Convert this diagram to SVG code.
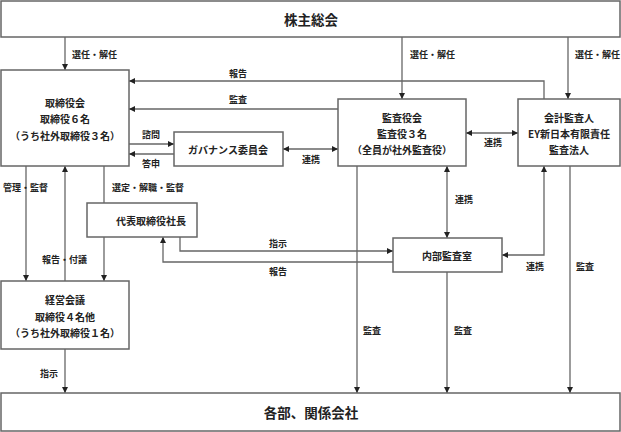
<svg xmlns="http://www.w3.org/2000/svg" width="621" height="432" viewBox="0 0 621 432">
<defs>
<marker id="ah" viewBox="0 0 10 10" refX="10" refY="5" markerWidth="6" markerHeight="6" orient="auto-start-reverse" markerUnits="userSpaceOnUse">
<path d="M0,0 L10,5 L0,10 z" fill="#222"/>
</marker>
<style>
.box{fill:#fff;stroke:#666;stroke-width:1.5}
.ln{fill:none;stroke:#666;stroke-width:1.3}
.t{font-family:"Noto Sans CJK JP","Noto Sans CJK SC",sans-serif;fill:#222;text-anchor:middle;dominant-baseline:central}
.n{font-size:10px;font-weight:bold}
.big{font-size:13.5px;font-weight:bold}
.l{font-size:9px;font-weight:bold}
.s{text-anchor:start}
</style>
</defs>
<rect width="621" height="432" fill="#fff"/>
<g id="connectors">
<path class="ln" d="M65,37 V70" marker-end="url(#ah)"/>
<path class="ln" d="M402,37 V99" marker-end="url(#ah)"/>
<path class="ln" d="M568,37 V99" marker-end="url(#ah)"/>
<path class="ln" d="M544,99 V81 H129" marker-end="url(#ah)"/>
<path class="ln" d="M338,109 H129" marker-end="url(#ah)"/>
<path class="ln" d="M129,144 H174" marker-end="url(#ah)"/>
<path class="ln" d="M174,154 H129" marker-end="url(#ah)"/>
<path class="ln" d="M283,149 H338" marker-start="url(#ah)" marker-end="url(#ah)"/>
<path class="ln" d="M466,133 H518" marker-start="url(#ah)" marker-end="url(#ah)"/>
<path class="ln" d="M26,166 V281" marker-end="url(#ah)"/>
<path class="ln" d="M65,281 V166" marker-end="url(#ah)"/>
<path class="ln" d="M104,166 V203"/>
<path class="ln" d="M104,237 V281" marker-end="url(#ah)"/>
<path class="ln" d="M65,349 V393" marker-end="url(#ah)"/>
<path class="ln" d="M180,237 V251 H393" marker-end="url(#ah)"/>
<path class="ln" d="M393,262 H163 V237" marker-end="url(#ah)"/>
<path class="ln" d="M447,166 V238" marker-start="url(#ah)" marker-end="url(#ah)"/>
<path class="ln" d="M502,255 H544 V166" marker-start="url(#ah)" marker-end="url(#ah)"/>
<path class="ln" d="M357,166 V393" marker-end="url(#ah)"/>
<path class="ln" d="M447,272 V393" marker-end="url(#ah)"/>
<path class="ln" d="M570,166 V393" marker-end="url(#ah)"/>
<text class="t l s" x="72" y="54">選任・解任</text>
<text class="t l s" x="410" y="54">選任・解任</text>
<text class="t l s" x="575" y="54">選任・解任</text>
<text class="t l" x="238" y="73">報告</text>
<text class="t l" x="238" y="99">監査</text>
<text class="t l" x="151" y="134">諮問</text>
<text class="t l" x="151" y="163">答申</text>
<text class="t l" x="311" y="159">連携</text>
<text class="t l" x="493" y="142">連携</text>
<text class="t l s" x="3" y="187">管理・監督</text>
<text class="t l s" x="112" y="187">選定・解職・監督</text>
<text class="t l" x="464" y="199">連携</text>
<text class="t l s" x="42" y="259">報告・付議</text>
<text class="t l" x="278" y="243">指示</text>
<text class="t l" x="278" y="271">報告</text>
<text class="t l" x="535" y="266">連携</text>
<text class="t l" x="585" y="266">監査</text>
<text class="t l" x="372" y="330">監査</text>
<text class="t l" x="463" y="330">監査</text>
<text class="t l" x="49" y="373">指示</text>
</g>
<g id="shareholders">
<rect class="box" x="1" y="1" width="619" height="36"/>
<text class="t big" x="311" y="19">株主総会</text>
</g>
<g id="board">
<rect class="box" x="1" y="70" width="128" height="96"/>
<text class="t n" x="65" y="102">取締役会</text>
<text class="t n" x="65" y="118">取締役６名</text>
<text class="t n" x="65" y="135">（うち社外取締役３名）</text>
</g>
<g id="governance">
<rect class="box" x="174" y="132" width="109" height="34"/>
<text class="t n" x="228" y="149">ガバナンス委員会</text>
</g>
<g id="audit-board">
<rect class="box" x="338" y="99" width="128" height="67"/>
<text class="t n" x="402" y="117">監査役会</text>
<text class="t n" x="402" y="133">監査役３名</text>
<text class="t n" x="402" y="149">（全員が社外監査役）</text>
</g>
<g id="auditor">
<rect class="box" x="518" y="99" width="102" height="67"/>
<text class="t n" x="569" y="117">会計監査人</text>
<text class="t n" x="569" y="133">EY新日本有限責任</text>
<text class="t n" x="569" y="149">監査法人</text>
</g>
<g id="president">
<rect class="box" x="87" y="203" width="110" height="34"/>
<text class="t n" x="151" y="220">代表取締役社長</text>
</g>
<g id="internal-audit">
<rect class="box" x="393" y="238" width="109" height="34"/>
<text class="t n" x="447" y="255">内部監査室</text>
</g>
<g id="management">
<rect class="box" x="1" y="281" width="128" height="68"/>
<text class="t n" x="65" y="299">経営会議</text>
<text class="t n" x="65" y="316">取締役４名他</text>
<text class="t n" x="65" y="332">（うち社外取締役１名）</text>
</g>
<g id="departments">
<rect class="box" x="1" y="393" width="619" height="38"/>
<text class="t big" x="311" y="412">各部、関係会社</text>
</g>
</svg>
